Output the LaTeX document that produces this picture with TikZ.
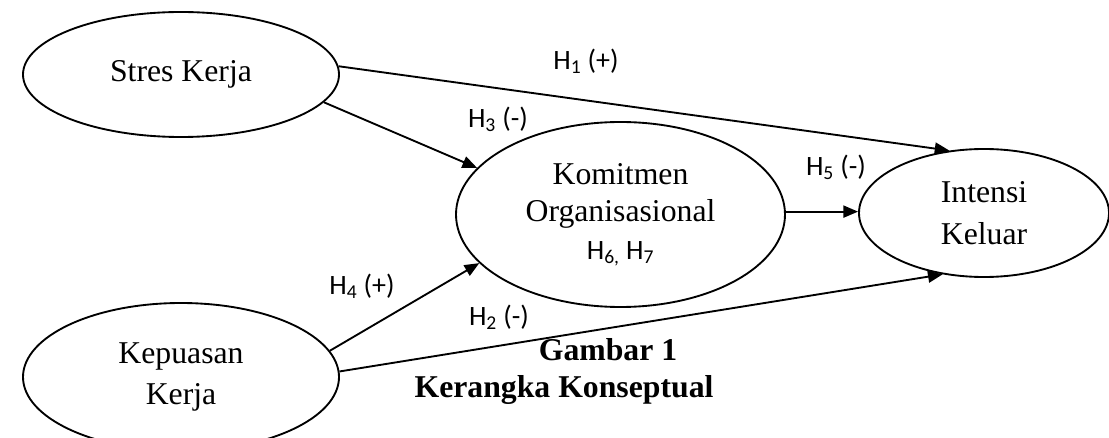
\documentclass[tikz,border=0pt]{standalone}
\usepackage{fontspec}
\setmainfont{Liberation Serif}
\newfontfamily\hypfont{Carlito}
\usetikzlibrary{shapes.geometric,arrows.meta}

\tikzset{
  construct/.style={draw, ellipse, line width=1.4pt, inner sep=0pt, align=center, font=\fontsize{23.8}{28}\selectfont},
  path arrow/.style={line width=1.4pt, -{Triangle[length=11pt,width=9pt]}},
  hyp label/.style={font=\hypfont\fontsize{21}{24}\selectfont, inner sep=0.75pt},
  caption text/.style={font=\bfseries\fontsize{23.8}{28}\selectfont, inner sep=0pt, anchor=base},
}

\begin{document}
\begin{tikzpicture}[x=0.75pt,y=0.75pt,yscale=-1,xscale=1]
        \useasboundingbox (0,0) rectangle (1109,438);

        %Shape: Ellipse
        \node[construct, minimum width=237pt, minimum height=93.75pt] (stres) at (181,74.5) {Stres Kerja};
        %Shape: Ellipse
        \node[construct, minimum width=237pt, minimum height=111pt, font=\fontsize{23.8}{30.75}\selectfont] (kepuasan) at (181,377) {Kepuasan\\Kerja};
        %Shape: Ellipse
        \node[construct, minimum width=246.75pt, minimum height=138.75pt] (komitmen) at (620.5,214.5) {Komitmen\\Organisasional\\{\hypfont\fontsize{21}{24}\selectfont H\textsubscript{6,} H\textsubscript{7}}};
        %Shape: Ellipse
        \node[construct, minimum width=187.5pt, minimum height=96pt, font=\fontsize{23.8}{32}\selectfont] (intensi) at (984,213) {Intensi\\Keluar};

        %Straight Lines
        \draw[path arrow] (stres.3.4) -- (intensi.119);
        %Straight Lines
        \draw[path arrow] (stres.-11.6) -- (komitmen.162);
        %Straight Lines
        \draw[path arrow] (kepuasan.10.9) -- (komitmen.199.8);
        %Straight Lines
        \draw[path arrow] (kepuasan.2) -- (intensi.-124);
        %Straight Lines
        \draw[path arrow] (komitmen.1) -- (komitmen.1 -| intensi.west);

        % Text Node
        \node[hyp label] (h1) at (586,61) {H\textsubscript{1} (+)};
        % Text Node
        \node[hyp label] (h3) at (498,119) {H\textsubscript{3} (-)};
        % Text Node
        \node[hyp label] (h5) at (836,167) {H\textsubscript{5} (-)};
        % Text Node
        \node[hyp label] (h4) at (362,286) {H\textsubscript{4} (+)};
        % Text Node
        \node[hyp label] (h2) at (499,317) {H\textsubscript{2} (-)};

        % Text Node
        \node[caption text] (gambar) at (608,360) {Gambar 1};
        % Text Node
        \node[caption text] (kerangka) at (564,397) {Kerangka Konseptual};
    \end{tikzpicture}
\end{document}
